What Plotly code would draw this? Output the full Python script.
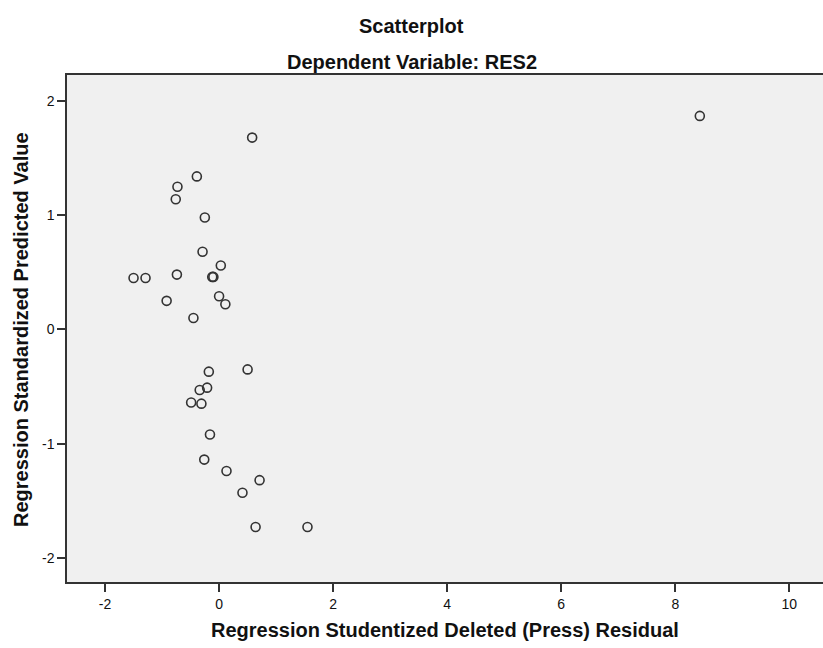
import plotly.graph_objects as go

# Regression Studentized Deleted (Press) Residual
x_resid = [8.43, 0.58, -0.39, -0.73, -0.76, -0.25, -0.29, 0.03, -0.74, -0.12, -0.10,
           -1.50, -1.29, -0.92, 0.00, 0.11, -0.45,
           -0.18, 0.50, -0.21, -0.34, -0.49, -0.31, -0.16, -0.26, 0.13, 0.71, 0.41,
           0.64, 1.55]
# Regression Standardized Predicted Value
y_pred = [1.87, 1.68, 1.34, 1.25, 1.14, 0.98, 0.68, 0.56, 0.48, 0.46, 0.46,
          0.45, 0.45, 0.25, 0.29, 0.22, 0.10,
          -0.37, -0.35, -0.51, -0.53, -0.64, -0.65, -0.92, -1.14, -1.24, -1.32, -1.43,
          -1.73, -1.73]

x_ticks = [-2, 0, 2, 4, 6, 8, 10]
y_ticks = [-2, -1, 0, 1, 2]

FONT = "Liberation Sans, Arial, sans-serif"

W, H = 823, 648
L, R, T, B = 67, 0, 75, 66
PW, PH = W - L - R, H - T - B


def px_to_paper_x(px):
    return (px - L) / PW


def px_to_paper_y(py):
    return (H - B - py) / PH


fig = go.Figure()
fig.add_trace(go.Scatter(
    x=x_resid, y=y_pred, mode="markers",
    marker=dict(symbol="circle-open", size=9, color="#333333", line=dict(width=1.6)),
    hoverinfo="x+y", showlegend=False,
))

fig.update_layout(
    width=W, height=H,
    margin=dict(l=L, r=R, t=T, b=B),
    paper_bgcolor="white",
    plot_bgcolor="#f0f0f0",
    font=dict(family=FONT, color="#111111"),
    xaxis=dict(
        range=[-2.667, 10.59], tickvals=x_ticks, ticktext=[str(v) for v in x_ticks],
        showgrid=False, zeroline=False, automargin=False,
        showline=True, linecolor="#333333", linewidth=1.5, mirror=True,
        ticks="outside", ticklen=8, tickwidth=1.5, tickcolor="#333333",
        tickfont=dict(size=14, family=FONT, color="#111111"),
    ),
    yaxis=dict(
        range=[-2.212, 2.228], tickvals=y_ticks, ticktext=[str(v) for v in y_ticks],
        showgrid=False, zeroline=False, automargin=False,
        showline=True, linecolor="#333333", linewidth=1.5,
        ticks="outside", ticklen=8, tickwidth=1.5, tickcolor="#333333",
        tickfont=dict(size=14, family=FONT, color="#111111"),
    ),
    annotations=[
        dict(text="<b>Scatterplot</b>", xref="paper", yref="paper",
             x=px_to_paper_x(411.5), y=px_to_paper_y(26), showarrow=False,
             xanchor="center", yanchor="middle", font=dict(size=20, family=FONT)),
        dict(text="<b>Dependent Variable: RES2</b>", xref="paper", yref="paper",
             x=px_to_paper_x(411.5), y=px_to_paper_y(62), showarrow=False,
             xanchor="center", yanchor="middle", font=dict(size=20, family=FONT)),
        dict(text="<b>Regression Studentized Deleted (Press) Residual</b>", xref="paper", yref="paper",
             x=px_to_paper_x(445), y=px_to_paper_y(630), showarrow=False,
             xanchor="center", yanchor="middle", font=dict(size=20, family=FONT)),
        dict(text="<b>Regression Standardized Predicted Value</b>", xref="paper", yref="paper",
             x=px_to_paper_x(21), y=px_to_paper_y(330), showarrow=False,
             textangle=-90, xanchor="center", yanchor="middle", font=dict(size=20, family=FONT)),
    ],
)

fig.write_html("out.html", config={"displayModeBar": False},
               post_script="document.body.style.margin='0';document.body.style.overflow='hidden';")
